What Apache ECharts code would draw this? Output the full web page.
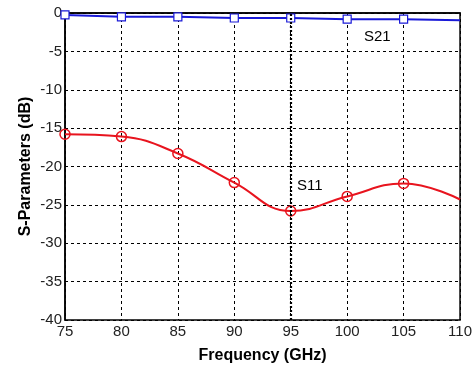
<!DOCTYPE html>
<html>
<head>
<meta charset="utf-8">
<script src="https://cdn.jsdelivr.net/npm/echarts@6/dist/echarts.min.js"></script>
<style>
  html, body { margin: 0; padding: 0; background: #fff; }
  #chart { width: 475px; height: 369px; }
</style>
</head>
<body>
<div id="chart"></div>
<script>
// 频率 (GHz)
const freq = [75, 80, 85, 90, 95, 100, 105, 110];
// S11 (dB)
const s11 = [-15.8, -16.1, -18.3, -22.1, -25.8, -23.9, -22.2, -24.3];
// S21 (dB)
const s21 = [-0.25, -0.5, -0.5, -0.65, -0.65, -0.8, -0.8, -0.95];
const xTicks = [75, 80, 85, 90, 95, 100, 105, 110];
const yTicks = [0, -5, -10, -15, -20, -25, -30, -35, -40];

const font = 'Liberation Sans, Arial, sans-serif';

function toPairs(ys) {
  // 最后一个点不画标记
  return freq.map((f, i) => ({
    value: [f, ys[i]],
    symbol: i === freq.length - 1 ? 'none' : undefined,
  }));
}

const chart = echarts.init(document.getElementById('chart'));

chart.setOption({
  animation: false,
  backgroundColor: '#fff',
  grid: {
    show: true,
    left: 65,
    right: 13,
    top: 13,
    bottom: 44,
    borderColor: '#000',
    borderWidth: 1.5,
  },
  xAxis: {
    type: 'value',
    min: 75,
    max: 110,
    interval: 5,
    name: 'Frequency (GHz)',
    nameLocation: 'middle',
    nameGap: 28,
    nameTextStyle: { fontFamily: font, fontSize: 16, fontWeight: 'bold', color: '#000' },
    axisLine: { lineStyle: { color: '#000', width: 1.5 } },
    axisTick: { show: false },
    axisLabel: {
      fontFamily: font, fontSize: 15, color: '#222', margin: 4,
      formatter: (v) => (xTicks.includes(v) ? String(v) : ''),
    },
    splitLine: { lineStyle: { color: '#000', type: [3, 3], width: 1 } },
  },
  yAxis: {
    type: 'value',
    min: -40,
    max: 0,
    interval: 5,
    name: 'S-Parameters (dB)',
    nameLocation: 'middle',
    nameGap: 31,
    nameMoveOverlap: false,
    nameTextStyle: { fontFamily: font, fontSize: 16, fontWeight: 'bold', color: '#000' },
    axisLine: { lineStyle: { color: '#000', width: 1.5 } },
    axisTick: { show: false },
    axisLabel: {
      fontFamily: font, fontSize: 15, color: '#222', margin: 3,
      formatter: (v) => (yTicks.includes(v) ? String(v) : ''),
    },
    splitLine: { lineStyle: { color: '#000', type: [3, 3], width: 1 } },
  },
  series: [
    {
      name: 'S21',
      type: 'line',
      data: toPairs(s21),
      symbol: 'rect',
      symbolSize: 8,
      showAllSymbol: true,
      itemStyle: { color: '#fff', borderColor: '#1a1ad8', borderWidth: 1.2 },
      lineStyle: { color: '#1a1ad8', width: 2 },
      z: 3,
    },
    {
      name: 'S11',
      type: 'line',
      data: toPairs(s11),
      smooth: 0.45,
      symbol: 'circle',
      symbolSize: 10,
      showAllSymbol: true,
      itemStyle: { color: 'rgba(255,255,255,0)', borderColor: '#e8141e', borderWidth: 1.5 },
      lineStyle: { color: '#e8141e', width: 2 },
      z: 3,
      markLine: {
        silent: true,
        symbol: 'none',
        label: { show: false },
        lineStyle: { color: '#000', type: [2, 2], width: 2.2 },
        data: [{ xAxis: 95 }],
      },
    },
  ],
  graphic: [
    {
      type: 'text',
      left: 364, top: 29,
      style: { text: 'S21', font: '15px ' + font, fill: '#000' },
    },
    {
      type: 'text',
      left: 297, top: 178,
      style: { text: 'S11', font: '15px ' + font, fill: '#000' },
    },
  ],
});
</script>
</body>
</html>
